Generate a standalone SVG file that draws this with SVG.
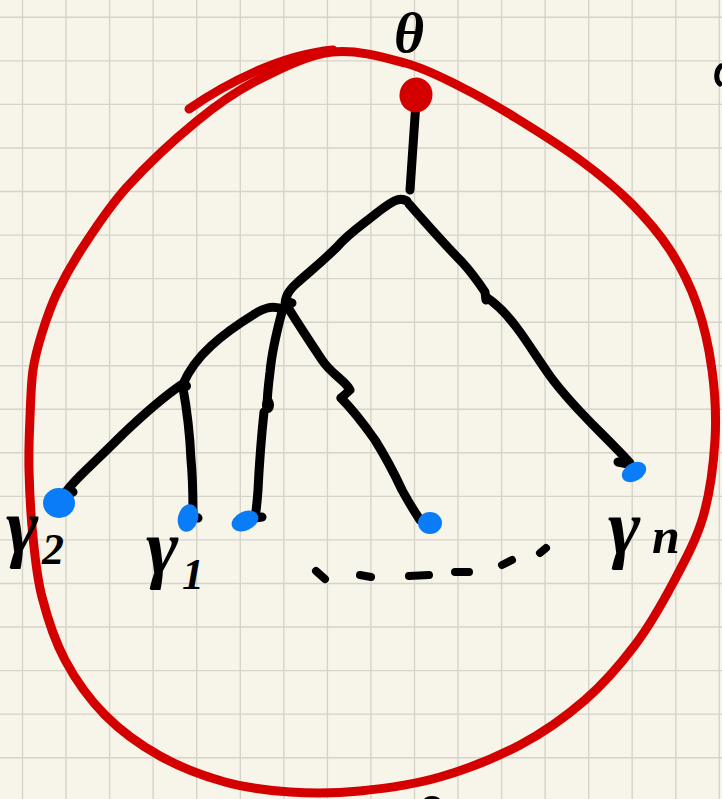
<svg xmlns="http://www.w3.org/2000/svg" width="722" height="799" viewBox="0 0 722 799">
<style>
.bg{fill:#f7f5ea}
.grid{stroke:#d6d4c9;stroke-width:1.4;fill:none}
.red{stroke:#d40000;stroke-width:9;fill:none;stroke-linecap:round;stroke-linejoin:round}
.ink{stroke:#000;stroke-width:9;fill:none;stroke-linecap:round;stroke-linejoin:round}
.dash{stroke:#000;stroke-width:8;fill:none;stroke-linecap:round}
.leaf{fill:#0a7cf7}
.root{fill:#d40000}
.lbl{font-family:"Liberation Serif","DejaVu Serif",serif;font-style:italic;font-weight:bold;fill:#000}
</style>
<rect class="bg" x="0" y="0" width="722" height="799"/>
<path class="grid" d="M22.5,0V799M66,0V799M109.6,0V799M153.1,0V799M196.7,0V799M240.3,0V799M283.8,0V799M327.4,0V799M370.9,0V799M414.5,0V799M458,0V799M501.6,0V799M545.1,0V799M588.7,0V799M632.2,0V799M675.8,0V799M719.3,0V799
M0,17.3H722M0,60.9H722M0,104.4H722M0,148H722M0,191.5H722M0,235.1H722M0,278.6H722M0,322.2H722M0,365.7H722M0,409.3H722M0,452.8H722M0,496.4H722M0,539.9H722M0,583.5H722M0,627H722M0,670.6H722M0,714.1H722M0,757.7H722"/>

<g id="boundary">
<path class="red" d="M332,52 C356.5,49.2 383.5,57.2 405,63 S442.5,77.8 461,87 S496.2,105.8 516,118 S561,146 580,160 S615,187 630,202 S658.8,232.8 670,250 S690,285 697,305 S709,347.5 712,370 S716.5,415.5 715,440 S710,493.2 703,517 S684.3,561.7 673,583 S649.7,625.5 635,645 S604.2,683.3 585,700 S544.2,732.2 520,745 S466.7,769.3 440,777 S385,788.5 360,791 S312.5,793.5 290,792 S246.7,788 225,782 S180,767.2 160,756 S120.8,731 105,715 S75.5,679.7 65,660 S47.3,617.5 42,597 S35.2,558.2 33,537 S29.5,490 29,470 S29.3,433.7 30,417 S31,384 33,370 S38,345.8 42,333 S50.2,307.3 57,293 S71.3,264.7 83,247 S108,208 127,187 S175.2,138.8 197,121 S235.5,91.5 258,80 S307.5,54.8 332,52"/>
<path class="red" d="M189,109 C225,84 280,55 333,50"/>
</g>

<g id="connectors">
<path class="ink" d="M416,102 C414,130 412,160 410,190"/>
<path class="ink" d="M407,201 C398,196 390,203 378,212 C362,225 348,234 337,247 C322,262 308,273 297,283 C288,291 285,297 285,306"/>
<path class="ink" d="M286,301 L292,303"/>
<path class="ink" d="M409,204 C425,222 445,245 462,262 C472,273 479,283 485,292 L486,300"/>
<path class="ink" d="M486,297 C500,306 510,318 520,332 C530,346 540,362 550,376 C563,394 580,412 600,432 C612,444 622,454 630,463"/>
<path class="ink" d="M618,462 L628,464"/>
<path class="ink" d="M284,310 C272,304 262,309 253,315 C240,323 225,333 211,346 C199,357 190,368 183,384"/>
<path class="ink" d="M181,385 C165,396 145,413 123,434 C105,452 90,466 80,476 C72,484 67,490 63,496"/>
<path class="ink" d="M67,495 L73,492"/>
<path class="ink" d="M183,388 C187,410 190,437 191,460 C193,480 193,500 193,515"/>
<path class="ink" d="M193,516 L198,518"/>
<path class="ink" d="M283,308 C277,330 272,350 270,372 C268,388 267,398 267,408"/>
<path class="ink" d="M264,412 C261,440 259,470 258,490 C257,505 256,512 255,518 L262,517"/>
<path class="ink" d="M287,306 C297,322 310,342 322,360 C332,375 345,380 350,390 L341,398"/>
<path class="ink" d="M341,398 C353,410 363,423 375,440 C385,456 395,475 402,490 C410,505 415,512 420,520"/>
<ellipse cx="186" cy="386" rx="5" ry="5" fill="#000"/>
<ellipse cx="268" cy="405" rx="6" ry="8" fill="#000"/>
</g>

<g id="node-root">
<ellipse class="root" cx="416" cy="95" rx="16.5" ry="17.5" transform="rotate(10 416 95)"/>
<text class="lbl" x="409" y="52" font-size="58" text-anchor="middle">θ</text>
</g>

<g id="node-leaf1">
<ellipse class="leaf" cx="59" cy="503" rx="16" ry="15"/>
<text class="lbl" x="6" y="552" font-size="78">γ</text>
<text class="lbl" x="42" y="564" font-size="44">2</text>
</g>
<g id="node-leaf2">
<ellipse class="leaf" cx="188" cy="518" rx="10" ry="14" transform="rotate(15 188 518)"/>
<text class="lbl" x="146" y="573" font-size="78">γ</text>
<text class="lbl" x="182" y="589" font-size="44">1</text>
</g>
<g id="node-leaf3">
<ellipse class="leaf" cx="245" cy="521" rx="14" ry="9.5" transform="rotate(-25 245 521)"/>
</g>
<g id="node-leaf4">
<ellipse class="leaf" cx="430" cy="523" rx="12" ry="11"/>
</g>
<g id="node-leafn">
<ellipse class="leaf" cx="634" cy="472" rx="13" ry="9" transform="rotate(-30 634 472)"/>
<text class="lbl" x="608" y="553" font-size="78">γ</text>
<text class="lbl" x="652" y="553" font-size="50">n</text>
</g>

<g id="dots">
<path class="dash" d="M316,571 L325,579 M360,575 L371,577 M409,576 L429,575 M455,572 L469,572 M502,565 L512,560 M540,553 L546,548"/>
</g>

<g id="fragments">
<path d="M721,66 C716,70 715,80 720,84" stroke="#000" stroke-width="5" fill="none" stroke-linecap="round"/>
<ellipse cx="432" cy="800" rx="8" ry="4" fill="#000"/>
</g>
</svg>
